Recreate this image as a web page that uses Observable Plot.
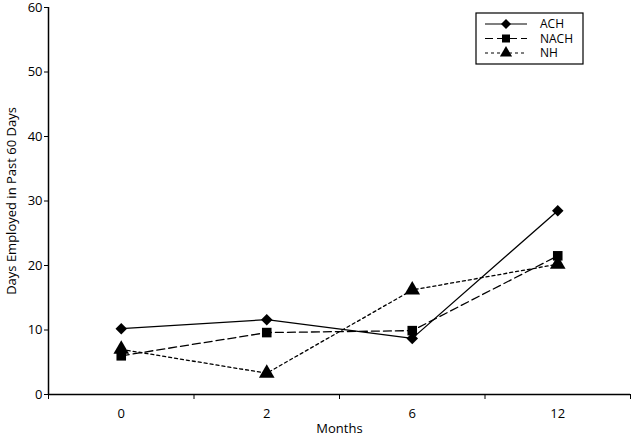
<!DOCTYPE html>
<html>
<head>
<meta charset="utf-8">
<script src="https://cdn.jsdelivr.net/npm/d3@7"></script>
<script src="https://cdn.jsdelivr.net/npm/@observablehq/plot@0.6"></script>
<style>
  html, body { margin: 0; padding: 0; background: #fff; }
  #chart { position: relative; width: 640px; height: 439px; }
</style>
</head>
<body>
<div id="chart"></div>
<script>
const months = ["0", "2", "6", "12"];
const seriesNames = ["ACH", "NACH", "NH"];
const achValues = [10.2, 11.6, 8.7, 28.5];
const nachValues = [6.0, 9.6, 9.9, 21.5];
const nhValues = [7.0, 3.3, 16.2, 20.2];
const yTicks = [0, 10, 20, 30, 40, 50, 60];

const styles = {
  ACH: {symbol: "diamond2", dash: null, r: 5.2},
  NACH: {symbol: "square", dash: "8,4", r: 5.4},
  NH: {symbol: "triangle", dash: "3,3", r: 5.8}
};

const valuesBySeries = {ACH: achValues, NACH: nachValues, NH: nhValues};
const rows = [];
for (const s of seriesNames) {
  valuesBySeries[s].forEach((v, i) => rows.push({series: s, idx: i, month: months[i], value: v}));
}

const font = "'Open Sans', 'Liberation Sans', sans-serif";
const marks = [];
const boundaries = d3.range(months.length + 1).map(i => i - 0.5);

marks.push(Plot.axisY({ticks: yTicks, tickSize: 4, tickPadding: 2, fontSize: 13,
  label: "Days Employed in Past 60 Days", labelAnchor: "center", labelArrow: "none", labelOffset: 42}));
marks.push(Plot.axisX({ticks: boundaries, tickSize: 5, tickFormat: () => "", label: null}));
marks.push(Plot.axisX({ticks: d3.range(months.length), tickSize: 0, tickPadding: 14, fontSize: 13,
  tickFormat: i => months[i], label: "Months", labelAnchor: "center", labelArrow: "none", labelOffset: 38}));
marks.push(Plot.ruleY([0], {stroke: "#000", strokeWidth: 1.5}));
marks.push(Plot.ruleX([-0.5], {stroke: "#000", strokeWidth: 1.5}));

for (const s of seriesNames) {
  const d = rows.filter(r => r.series === s);
  marks.push(Plot.line(d, {x: "idx", y: "value", stroke: "#000", strokeWidth: 1.3,
    strokeDasharray: styles[s].dash}));
}
for (const s of seriesNames) {
  const d = rows.filter(r => r.series === s);
  marks.push(Plot.dot(d, {x: "idx", y: "value", symbol: () => styles[s].symbol, r: styles[s].r,
    fill: "#000", stroke: "none"}));
}

const plot = Plot.plot({
  width: 640,
  height: 439,
  marginLeft: 48,
  marginRight: 10,
  marginTop: 7,
  marginBottom: 45,
  style: {fontFamily: font, fontSize: "13px", color: "#000", background: "#fff"},
  x: {type: "linear", domain: [-0.5, months.length - 0.5]},
  y: {domain: [0, 60]},
  symbol: {type: "identity"},
  marks
});
document.getElementById("chart").appendChild(plot);

// Legend drawn inside the svg
const svg = d3.select(plot);
const lg = svg.append("g").attr("transform", "translate(476,13)");
lg.append("rect").attr("width", 107).attr("height", 51).attr("fill", "#fff").attr("stroke", "#000").attr("stroke-width", 1.2);
const symMap = {diamond2: d3.symbolDiamond2, square: d3.symbolSquare, triangle: d3.symbolTriangle};
seriesNames.forEach((s, i) => {
  const y = 11 + i * 14.5;
  const g = lg.append("g").attr("transform", `translate(0,${y})`);
  g.append("line").attr("x1", 9).attr("x2", 51).attr("y1", 0).attr("y2", 0)
    .attr("stroke", "#000").attr("stroke-width", 1.2).attr("stroke-dasharray", styles[s].dash);
  g.append("path").attr("transform", "translate(30,0)")
    .attr("d", d3.symbol(symMap[styles[s].symbol], 64)()).attr("fill", "#000");
  g.append("text").attr("x", 64).attr("y", 0).attr("dy", "0.35em")
    .attr("text-anchor", "start")
    .attr("font-family", font).attr("font-size", 12).text(s);
});
</script>
</body>
</html>
